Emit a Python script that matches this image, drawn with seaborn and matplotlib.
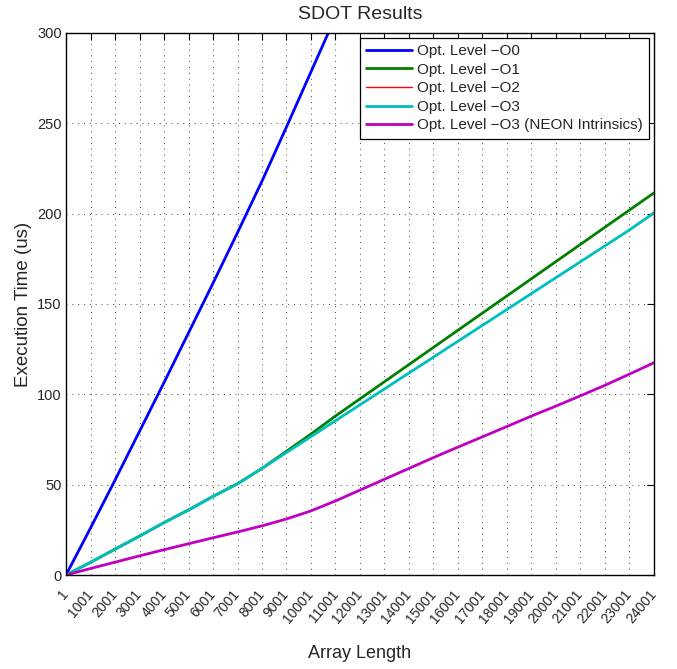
import numpy as np
import pandas as pd
import matplotlib
matplotlib.use("Agg")
import matplotlib.pyplot as plt
import seaborn as sns

# array lengths
sizes = list(range(1, 24002, 1000))

# execution times (us)
o0 = [0, 26, 52.5, 79.5, 106.5, 134, 161.5, 189.5, 218, 248, 278.5, 309, 340,
      370, 400, 431, 461, 491, 522, 552, 582, 613, 643, 673, 704]
o1 = [0, 7, 14.3, 21.5, 29, 36, 43.5, 50.5, 59, 68.5, 78, 88, 97.5,
      107, 116.5, 126, 135.5, 145, 154.5, 164, 173.5, 183, 192.5, 202, 211.5]
o2 = [0, 7, 14.3, 21.5, 29, 36, 43.5, 50.5, 59, 67.8, 76.6, 85.4, 94.2,
      103, 111.8, 120.6, 129.4, 138.2, 147, 155.8, 164.6, 173.4, 182.2, 191, 200]
o3 = [0, 7, 14.3, 21.5, 29, 36, 43.5, 50.5, 59, 67.8, 76.6, 85.4, 94.2,
      103, 111.8, 120.6, 129.4, 138.2, 147, 155.8, 164.6, 173.4, 182.2, 191, 200.5]
neon = [0, 3.6, 7.1, 10.6, 14, 17.3, 20.6, 23.8, 27.2, 31, 35.5, 41, 47,
        53, 59, 65, 70.8, 76.5, 82.2, 88, 93.5, 99.2, 105, 111.2, 117.5]

labels = ["Opt. Level \u2212O0", "Opt. Level \u2212O1", "Opt. Level \u2212O2",
          "Opt. Level \u2212O3", "Opt. Level \u2212O3 (NEON Intrinsics)"]
colors = ["#0000ff", "#008000", "#ff0000", "#00bfbf", "#bf00bf"]
widths = [2, 2, 1.0, 2, 2]

sns.set_style("white")
plt.rcParams['font.family'] = ['Liberation Sans', 'DejaVu Sans']

fig = plt.figure(figsize=(6.77, 6.69), dpi=100)
ax = fig.add_axes([0.0975, 0.1405, 0.8685, 0.8102])

for vals, lab, col, lw in zip([o0, o1, o2, o3, neon], labels, colors, widths):
    df = pd.DataFrame({"Array Length": sizes, "Time": vals})
    sns.lineplot(data=df, x="Array Length", y="Time", color=col,
                 linewidth=lw, label=lab, ax=ax)

ax.set_xlim(1, 24001)
ax.set_ylim(0, 300)
ax.set_xticks(sizes)
ax.set_xticklabels([str(s) for s in sizes], rotation=50, ha="right",
                   va="center", rotation_mode="anchor", fontsize=10)
ax.set_yticks(range(0, 301, 50))
ax.tick_params(axis="y", labelsize=10.5, pad=3)
ax.tick_params(axis="x", pad=12)
ax.tick_params(direction="in", length=5, width=0.8, top=True, right=True,
               color="black")
ax.grid(True, linestyle=(0, (1, 5)), color="#444444", linewidth=0.7)
for sp in ax.spines.values():
    sp.set_color("black")
    sp.set_linewidth(1.0)

ax.set_title("SDOT Results", fontsize=14, pad=10)
ax.set_xlabel("Array Length", fontsize=13, labelpad=14)
ax.set_ylabel("Execution Time (us)", fontsize=13.5, labelpad=4)

leg = ax.legend(loc="upper right", fontsize=11, frameon=True, fancybox=False,
                edgecolor="black", framealpha=1, borderaxespad=0.33,
                handlelength=3.0, handletextpad=0.35, labelspacing=0.3,
                borderpad=0.4)
leg.get_frame().set_linewidth(0.9)

fig.savefig("out.png", dpi=100)
